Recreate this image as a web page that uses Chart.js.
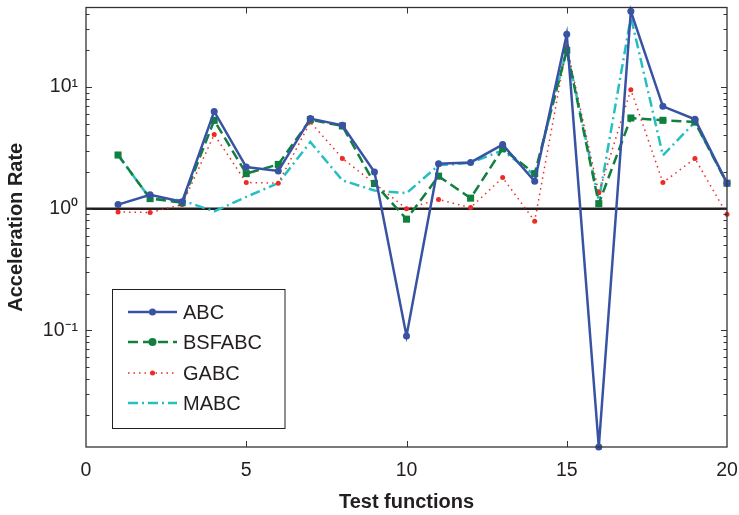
<!DOCTYPE html>
<html>
<head>
<meta charset="utf-8">
<script src="https://cdn.jsdelivr.net/npm/chart.js@4.4.1/dist/chart.umd.min.js"></script>
<style>
  html, body { margin: 0; padding: 0; background: #fff; }
  #wrap { width: 739px; height: 515px; }
</style>
</head>
<body>
<div id="wrap"><canvas id="grafico" width="739" height="515"></canvas></div>
<script>
// datos
const funciones = [1, 2, 3, 4, 5, 6, 7, 8, 9, 10, 11, 12, 13, 14, 15, 16, 17, 18, 19, 20];
const abc    = [1.08, 1.30, 1.14, 6.3, 2.2, 2.04, 5.5, 4.84, 2.0, 0.090, 2.34, 2.40, 3.36, 1.68, 27.1, 0.011, 41.9, 6.94, 5.42, 1.62];
const bsfabc = [2.76, 1.21, 1.12, 5.32, 1.94, 2.31, 5.4, 4.78, 1.61, 0.82, 1.85, 1.22, 3.11, 1.94, 20.0, 1.10, 5.56, 5.32, 5.15, 1.62];
const gabc   = [0.94, 0.93, 1.08, 4.06, 1.64, 1.62, 5.15, 2.59, 1.61, 1.0, 1.19, 1.02, 1.80, 0.79, 21.5, 1.35, 9.5, 1.64, 2.58, 0.90];
const mabc   = [2.76, 1.21, 1.17, 0.95, 1.25, 1.62, 3.53, 1.71, 1.41, 1.34, 2.27, 2.38, 3.02, 1.88, 20.3, 1.17, 37.6, 2.74, 5.15, 1.62];
const referencia = [1, 1];
const xTicks = [0, 5, 10, 15, 20];
const yMin = 0.011, yMax = 45;

function puntos(arr) {
  return arr.map((v, i) => ({ x: funciones[i], y: v }));
}

const sup = { '0': '\u2070', '1': '\u00B9', '-': '\u207B' };
function potencia(exp) {
  return '10' + String(exp).split('').map(c => sup[c] || c).join('');
}

const fuente = "'Liberation Sans', Arial, Helvetica, sans-serif";
const oscuro = '#231f20';

// marco y marcas hacia dentro (estilo matlab)
const marco = {
  id: 'marco',
  afterDraw(chart) {
    const { ctx, chartArea: a } = chart;
    const xs = chart.scales.x, ys = chart.scales.y;
    ctx.save();
    ctx.strokeStyle = '#333';
    ctx.lineWidth = 1;
    ctx.beginPath();
    xs.ticks.forEach(t => {
      const px = Math.round(xs.getPixelForValue(t.value)) + 0.5;
      if (px <= a.left + 1 || px >= a.right - 1) return;
      ctx.moveTo(px, a.bottom); ctx.lineTo(px, a.bottom - 6);
      ctx.moveTo(px, a.top); ctx.lineTo(px, a.top + 6);
    });
    ys.ticks.forEach(t => {
      const e = Math.floor(Math.log10(t.value) + 1e-9);
      const m = t.value / Math.pow(10, e);
      if (Math.abs(m - Math.round(m)) > 1e-6) return;
      const py = Math.round(ys.getPixelForValue(t.value)) + 0.5;
      if (py <= a.top + 1 || py >= a.bottom - 1) return;
      const len = Math.round(m) === 1 ? 6 : 3.5;
      ctx.moveTo(a.left, py); ctx.lineTo(a.left + len, py);
      ctx.moveTo(a.right, py); ctx.lineTo(a.right - len, py);
    });
    ctx.stroke();
    ctx.lineWidth = 1.3;
    ctx.strokeStyle = '#333';
    ctx.strokeRect(a.left, a.top, a.right - a.left, a.bottom - a.top);
    ctx.restore();
  }
};

// leyenda con linea + marcador
const leyenda = {
  id: 'leyenda',
  afterDraw(chart) {
    const { ctx } = chart;
    const box = { x: 112.5, y: 289.5, w: 172.5, h: 139 };
    ctx.save();
    ctx.fillStyle = '#fff';
    ctx.fillRect(box.x, box.y, box.w, box.h);
    ctx.strokeStyle = oscuro;
    ctx.lineWidth = 1;
    ctx.strokeRect(box.x, box.y, box.w, box.h);
    const filas = [312, 342, 373, 403];
    for (let i = 0; i < 4; i++) {
      const ds = chart.data.datasets[i];
      const y = filas[i];
      ctx.save();
      ctx.strokeStyle = ds.borderColor;
      ctx.lineWidth = ds.borderWidth;
      ctx.setLineDash(ds.borderDash || []);
      ctx.beginPath();
      ctx.moveTo(128, y); ctx.lineTo(177, y);
      ctx.stroke();
      ctx.restore();
      if (ds.pointRadius > 0) {
        ctx.fillStyle = ds.pointBackgroundColor;
        ctx.strokeStyle = ds.pointBorderColor;
        Chart.helpers.drawPoint(ctx, {
          pointStyle: 'circle', radius: i === 1 ? 4 : ds.pointRadius, rotation: 0, borderWidth: 0
        }, 152.5, y);
      }
      ctx.fillStyle = oscuro;
      ctx.font = '20px ' + fuente;
      ctx.textBaseline = 'middle';
      ctx.textAlign = 'left';
      ctx.fillText(ds.label, 183, y + 1);
    }
    ctx.restore();
  }
};

new Chart(document.getElementById('grafico'), {
  type: 'line',
  data: {
    datasets: [
      {
        label: 'ABC', data: puntos(abc),
        borderColor: '#3953a4', borderWidth: 2.5,
        pointStyle: 'circle', pointRadius: 3.5,
        pointBackgroundColor: '#3953a4', pointBorderColor: '#3953a4', pointBorderWidth: 0
      },
      {
        label: 'BSFABC', data: puntos(bsfabc),
        borderColor: '#117f3e', borderWidth: 2.5, borderDash: [10, 5],
        pointStyle: 'rect', pointRadius: 5,
        pointBackgroundColor: '#117f3e', pointBorderColor: '#117f3e', pointBorderWidth: 0
      },
      {
        label: 'GABC', data: puntos(gabc),
        borderColor: '#ee2a24', borderWidth: 1.5, borderDash: [1.5, 4],
        pointStyle: 'circle', pointRadius: 2.5,
        pointBackgroundColor: '#ee2a24', pointBorderColor: '#ee2a24', pointBorderWidth: 0
      },
      {
        label: 'MABC', data: puntos(mabc),
        borderColor: '#26bfc1', borderWidth: 2.5, borderDash: [10, 4, 2, 4],
        pointRadius: 0
      },
      {
        label: 'ref', data: [{ x: xTicks[0], y: referencia[0] }, { x: xTicks[xTicks.length - 1], y: referencia[1] }],
        borderColor: oscuro, borderWidth: 2.5, pointRadius: 0
      }
    ]
  },
  options: {
    responsive: false,
    animation: false,
    devicePixelRatio: 1,
    layout: { padding: { top: 7.5, right: 12, left: 0, bottom: 0 } },
    elements: { line: { tension: 0, fill: false } },
    datasets: { line: { clip: false } },
    plugins: { legend: { display: false }, tooltip: { enabled: false } },
    scales: {
      x: {
        type: 'linear', min: 0, max: 20,
        afterBuildTicks: s => { s.ticks = xTicks.map(v => ({ value: v })); },
        afterFit: s => { s.height = 68; s.paddingLeft = 0; s.paddingRight = 0; },
        grid: { display: false, drawTicks: false },
        border: { display: false },
        ticks: { color: oscuro, padding: 12, font: { family: fuente, size: 19.5 }, maxRotation: 0 },
        title: {
          display: true, text: 'Test functions', color: oscuro,
          font: { family: fuente, size: 20, weight: 'bold', lineHeight: 1.2 },
          padding: { top: 0, bottom: 1 }
        }
      },
      y: {
        type: 'logarithmic', min: yMin, max: yMax,
        afterBuildTicks: s => {
          const t = [];
          for (let e = -2; e <= 1; e++) {
            for (let m = 1; m <= 9; m++) {
              const v = m * Math.pow(10, e);
              if (v >= yMin && v <= yMax) t.push({ value: v, major: m === 1 });
            }
          }
          s.ticks = t;
        },
        afterFit: s => { s.width = 86; s.paddingTop = 0; s.paddingBottom = 0; },
        grid: { display: false, drawTicks: false },
        border: { display: false },
        ticks: {
          autoSkip: false, color: oscuro, padding: 8,
          font: { family: fuente, size: 19.5 },
          callback: v => {
            const e = Math.log10(v);
            return Math.abs(e - Math.round(e)) < 1e-9 ? potencia(Math.round(e)) : '';
          }
        },
        title: {
          display: true, text: 'Acceleration Rate', color: oscuro,
          font: { family: fuente, size: 20, weight: 'bold', lineHeight: 1.2 },
          padding: { top: 4, bottom: 0 }
        }
      }
    }
  },
  plugins: [marco, leyenda]
});
</script>
</body>
</html>
